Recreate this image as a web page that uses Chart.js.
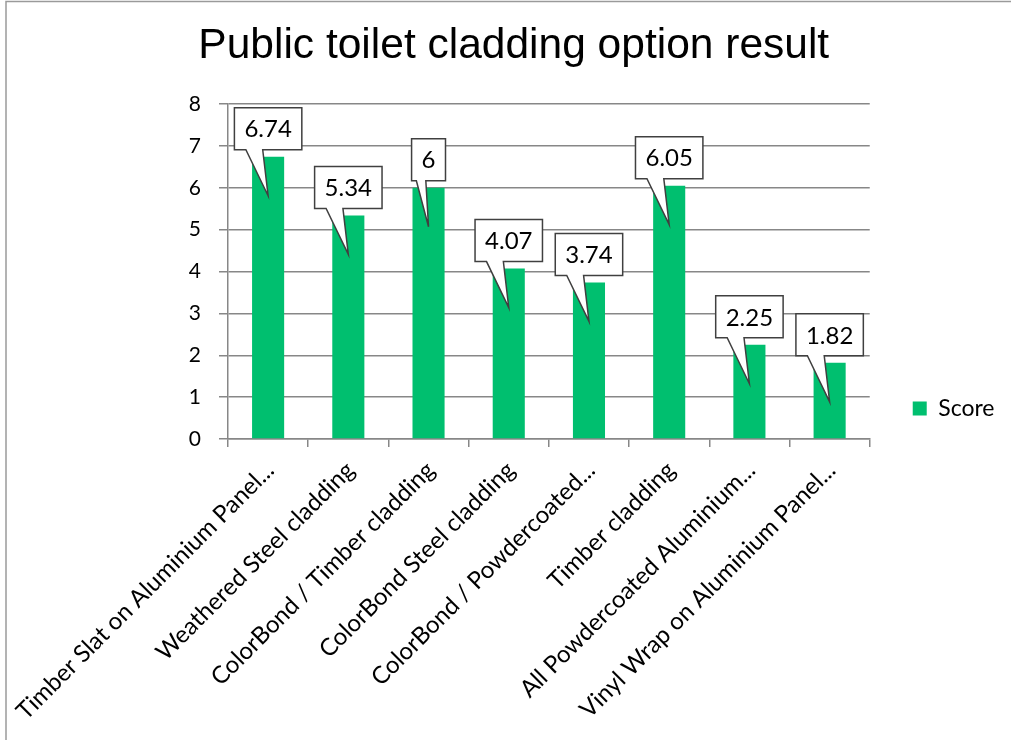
<!DOCTYPE html>
<html>
<head>
<meta charset="utf-8">
<script src="https://cdn.jsdelivr.net/npm/chart.js@4.4.0/dist/chart.umd.min.js"></script>
<style>
  html, body { margin: 0; padding: 0; background: #fff; }
</style>
</head>
<body>
<canvas id="chart" width="1011" height="740"></canvas>
<script>
var categories = [
  'Timber Slat on Aluminium Panel...',
  'Weathered Steel cladding',
  'ColorBond / Timber cladding',
  'ColorBond Steel cladding',
  'ColorBond / Powdercoated...',
  'Timber cladding',
  'All Powdercoated Aluminium...',
  'Vinyl Wrap on Aluminium Panel...'
];
var scores = [6.74, 5.34, 6, 4.07, 3.74, 6.05, 2.25, 1.82];
var yTicks = [0, 1, 2, 3, 4, 5, 6, 7, 8];

var gridGrey = '#878787';
var barGreen = '#00BF6F';

// white frame with grey edge, like the exported chart object
var framePlugin = {
  id: 'frame',
  beforeDraw: function(chart) {
    var ctx = chart.ctx;
    ctx.save();
    ctx.fillStyle = '#fff';
    ctx.fillRect(0, 0, chart.width, chart.height);
    ctx.strokeStyle = '#9a9a9a';
    ctx.lineWidth = 1.5;
    ctx.strokeRect(6, 1.5, chart.width + 50, chart.height + 50);
    ctx.restore();
  }
};

// callout boxes holding the values, wedge pointing into each bar
var calloutPlugin = {
  id: 'callouts',
  afterDatasetsDraw: function(chart) {
    var ctx = chart.ctx;
    var meta = chart.getDatasetMeta(0);
    ctx.save();
    ctx.font = '24px Lato';
    ctx.textAlign = 'center';
    ctx.textBaseline = 'middle';
    meta.data.forEach(function(bar, i) {
      var text = String(scores[i]);
      var w = ctx.measureText(text).width + 20;
      var h = 42;
      var cx = bar.x;
      var bottom = bar.y - 7;
      var left = cx - w / 2;
      var top = bottom - h;
      var tipX = cx, tipY = bar.y + 39;
      var bL = cx - 0.3 * w - 2, bR = cx - 0.08 * w;
      ctx.beginPath();
      ctx.moveTo(left, top);
      ctx.lineTo(left + w, top);
      ctx.lineTo(left + w, bottom);
      ctx.lineTo(bR, bottom);
      ctx.lineTo(tipX, tipY);
      ctx.lineTo(bL, bottom);
      ctx.lineTo(left, bottom);
      ctx.closePath();
      ctx.fillStyle = '#fff';
      ctx.fill();
      ctx.strokeStyle = '#404040';
      ctx.lineWidth = 1.5;
      ctx.stroke();
      ctx.fillStyle = '#000';
      ctx.fillText(text, cx, top + h / 2 + 1);
    });
    ctx.restore();
  }
};

new Chart(document.getElementById('chart'), {
  type: 'bar',
  data: {
    labels: categories,
    datasets: [{
      label: 'Score',
      data: scores,
      backgroundColor: barGreen,
      borderWidth: 0,
      categoryPercentage: 1.0,
      barPercentage: 0.4
    }]
  },
  options: {
    responsive: false,
    animation: false,
    layout: { padding: { left: 23, right: 6.5, top: 0, bottom: 0 } },
    plugins: {
      title: {
        display: true,
        text: 'Public toilet cladding option result',
        color: '#000',
        font: { family: 'Liberation Sans', size: 42.5, weight: 'normal' },
        padding: { top: 21, bottom: 32 }
      },
      legend: {
        position: 'right',
        title: {
          display: true,
          text: ' ',
          font: { size: 10 },
          padding: { top: 32, bottom: 33 }
        },
        labels: {
          color: '#000',
          font: { family: 'Lato', size: 23 },
          boxWidth: 14,
          boxHeight: 14,
          padding: 43
        }
      },
      tooltip: { enabled: false }
    },
    scales: {
      x: {
        grid: { display: true, drawOnChartArea: false, offset: true, color: gridGrey, tickLength: 8, lineWidth: 1.5 },
        border: { color: gridGrey, width: 1.5 },
        ticks: {
          color: '#000',
          font: { family: 'Lato', size: 24 },
          minRotation: 45,
          maxRotation: 45,
          autoSkip: false,
          labelOffset: 2,
          padding: 9
        },
        afterFit: function(scale) {
          scale.height = 301;
          scale.paddingLeft = 0;
          scale.paddingRight = 0;
        }
      },
      y: {
        min: 0,
        max: 8,
        afterBuildTicks: function(scale) {
          scale.ticks = yTicks.map(function(v) { return { value: v }; });
        },
        grid: { color: gridGrey, tickLength: 9, lineWidth: 1.5 },
        border: { color: gridGrey, width: 1.5 },
        ticks: {
          color: '#000',
          font: { family: 'Lato', size: 21 },
          padding: 18
        },
        afterFit: function(scale) { scale.width = 205; }
      }
    }
  },
  plugins: [framePlugin, calloutPlugin]
});
</script>
</body>
</html>
